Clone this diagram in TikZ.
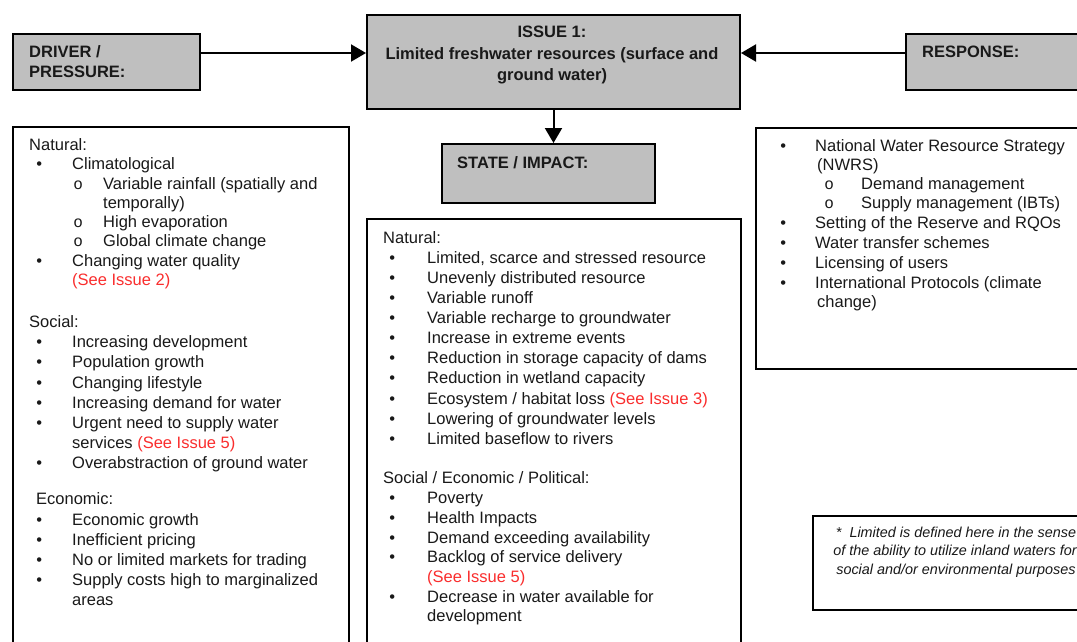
\documentclass[tikz,border=0pt]{standalone}
\usepackage{fontspec}
\setmainfont{Liberation Sans}
\newfontfamily\monof{Liberation Mono}
\usetikzlibrary{arrows.meta}
\definecolor{boxgray}{RGB}{191,191,191}
\definecolor{refred}{RGB}{250,45,45}
\definecolor{txtcol}{RGB}{25,25,25}
\newcounter{lnc}
\newcommand\Tx[3]{\stepcounter{lnc}\node[txt] (t\arabic{lnc}) at (#1,#2) {#3};}
\newcommand\Bu[5]{\stepcounter{lnc}\node[txt] (t\arabic{lnc}) at (#3,#4) {\llap{\makebox[\dimexpr #3pt-#2pt\relax][l]{\makebox[0pt]{#1}}}#5};}
\newcommand\bul{\textbullet}
\newcommand\sub{{\monof\fontsize{16}{18}\selectfont o}}
\newcommand\see[1]{\textcolor{refred}{#1}}
\begin{document}
\begin{tikzpicture}[x=1pt,y=-1pt,
  frame/.style={draw=black,line width=2pt,fill=white,inner sep=0pt,anchor=north west},
  gframe/.style={frame,fill=boxgray},
  txt/.style={anchor=base west,inner sep=0pt,text=txtcol,font=\fontsize{16.5}{19.8}\selectfont},
  hdr/.style={txt,font=\fontsize{16.5}{19.8}\selectfont\bfseries},
  chdr/.style={hdr,anchor=base},
  note/.style={anchor=base,inner sep=0pt,text=txtcol,font=\fontsize{14.4}{18}\selectfont\itshape},
  conn/.style={line width=2pt,-{Triangle[length=15pt,width=17pt]}}]
\useasboundingbox (0,0) rectangle (1077,641);
\clip (0,0) rectangle (1077,641);
% boxes
\node[gframe,minimum width=187pt,minimum height=56pt] (drv) at (12,33) {};
\node[gframe,minimum width=373pt,minimum height=94pt] (issue) at (366,14) {};
\node[gframe,minimum width=200pt,minimum height=56pt] (resp) at (905,33) {};
\node[gframe,minimum width=213pt,minimum height=59pt] (state) at (441,143) {};
\node[frame,minimum width=336pt,minimum height=540pt] (drvbox) at (12,126) {};
\node[frame,minimum width=374pt,minimum height=450pt] (statebox) at (366,218) {};
\node[frame,minimum width=350pt,minimum height=241pt] (respbox) at (755,127) {};
\node[frame,minimum width=300pt,minimum height=94pt] (notebox) at (812,515) {};
% connectors
\draw[conn] ([yshift=9pt]drv.east) -- ([yshift=9pt]issue.west);
\draw[conn] ([yshift=9pt]resp.west) -- ([yshift=9pt]issue.east);
\draw[conn] (issue.south) -- (issue.south |- state.north);
% headers
\node[hdr] (h1) at (29,57) {DRIVER /};
\node[hdr] (h2) at (29,77) {PRESSURE:};
\node[chdr] (h3) at (552,37) {ISSUE 1:};
\node[chdr] (h4) at (552,59) {Limited freshwater resources (surface and};
\node[chdr] (h5) at (552,80) {ground water)};
\node[hdr] (h6) at (922,57) {RESPONSE:};
\node[hdr] (h7) at (457,168) {STATE / IMPACT:};
% left box
\Tx{29}{150}{Natural:}
\Bu{\bul}{39}{72}{169}{Climatological}
\Bu{\sub}{78}{103}{189}{Variable rainfall (spatially and}
\Tx{103}{208}{temporally)}
\Bu{\sub}{78}{103}{227}{High evaporation}
\Bu{\sub}{78}{103}{246}{Global climate change}
\Bu{\bul}{39}{72}{266}{Changing water quality}
\Tx{72}{285}{\see{(See Issue 2)}}
\Tx{29}{327}{Social:}
\Bu{\bul}{39}{72}{347}{Increasing development}
\Bu{\bul}{39}{72}{367}{Population growth}
\Bu{\bul}{39}{72}{388}{Changing lifestyle}
\Bu{\bul}{39}{72}{408}{Increasing demand for water}
\Bu{\bul}{39}{72}{428}{Urgent need to supply water}
\Tx{72}{448}{services \see{(See Issue 5)}}
\Bu{\bul}{39}{72}{468}{Overabstraction of ground water}
\Tx{36}{504}{Economic:}
\Bu{\bul}{39}{72}{525}{Economic growth}
\Bu{\bul}{39}{72}{545}{Inefficient pricing}
\Bu{\bul}{39}{72}{565}{No or limited markets for trading}
\Bu{\bul}{39}{72}{585}{Supply costs high to marginalized}
\Tx{72}{605}{areas}
% middle box
\Tx{383}{243}{Natural:}
\Bu{\bul}{392}{427}{263}{Limited, scarce and stressed resource}
\Bu{\bul}{392}{427}{283}{Unevenly distributed resource}
\Bu{\bul}{392}{427}{303}{Variable runoff}
\Bu{\bul}{392}{427}{323}{Variable recharge to groundwater}
\Bu{\bul}{392}{427}{343}{Increase in extreme events}
\Bu{\bul}{392}{427}{363}{Reduction in storage capacity of dams}
\Bu{\bul}{392}{427}{383}{Reduction in wetland capacity}
\Bu{\bul}{392}{427}{404}{Ecosystem / habitat loss \see{(See Issue 3)}}
\Bu{\bul}{392}{427}{424}{Lowering of groundwater levels}
\Bu{\bul}{392}{427}{444}{Limited baseflow to rivers}
\Tx{383}{483}{Social / Economic / Political:}
\Bu{\bul}{392}{427}{503}{Poverty}
\Bu{\bul}{392}{427}{523}{Health Impacts}
\Bu{\bul}{392}{427}{543}{Demand exceeding availability}
\Bu{\bul}{392}{427}{562}{Backlog of service delivery}
\Tx{427}{582}{\see{(See Issue 5)}}
\Bu{\bul}{392}{427}{602}{Decrease in water available for}
\Tx{427}{621}{development}
% right box
\Bu{\bul}{783}{815}{151}{National Water Resource Strategy}
\Tx{817}{170}{(NWRS)}
\Bu{\sub}{829}{861}{189}{Demand management}
\Bu{\sub}{829}{861}{208}{Supply management (IBTs)}
\Bu{\bul}{783}{815}{228}{Setting of the Reserve and RQOs}
\Bu{\bul}{783}{815}{248}{Water transfer schemes}
\Bu{\bul}{783}{815}{268}{Licensing of users}
\Bu{\bul}{783}{815}{288}{International Protocols (climate}
\Tx{817}{307}{change)}
% footnote
\node[note] (n1) at (956,537) {*\ \ Limited is defined here in the sense};
\node[note] (n2) at (955,555.5) {of the ability to utilize inland waters for};
\node[note] (n3) at (956,574) {social and/or environmental purposes};
\end{tikzpicture}
\end{document}
